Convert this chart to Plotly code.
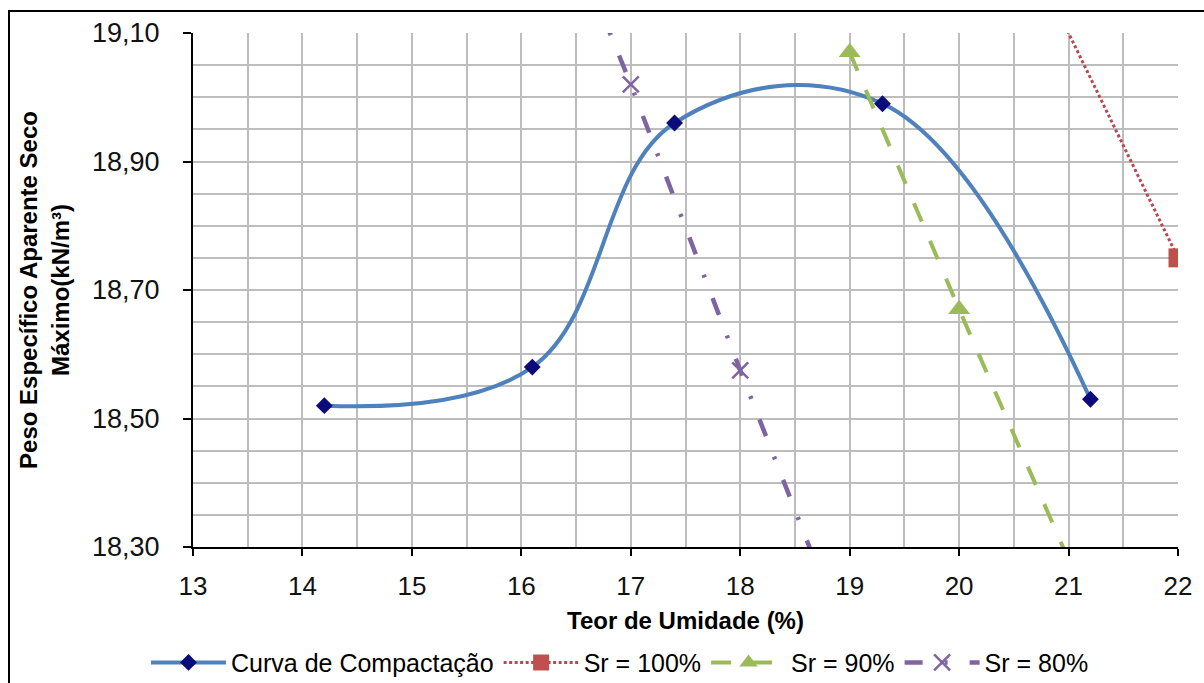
import plotly.graph_objects as go

# ---- data ----
umidade = [14.2, 16.1, 17.4, 19.3, 21.2]
peso_seco = [18.52, 18.58, 18.96, 18.99, 18.53]

sr100_x = [20, 22]
sr100_y = [19.45, 18.75]

sr90_x = [19, 20, 21]
sr90_y = [19.07, 18.67, 18.28]

sr80_x = [16, 17, 18, 19]
sr80_y = [19.44, 19.02, 18.575, 18.14]

x_ticks = [13, 14, 15, 16, 17, 18, 19, 20, 21, 22]
y_ticks = [18.30, 18.50, 18.70, 18.90, 19.10]

FONT = "Liberation Sans, Arial, sans-serif"

fig = go.Figure()

fig.add_trace(go.Scatter(
    x=umidade, y=peso_seco, name="Curva de Compactação",
    mode="lines+markers", line=dict(color="#4F81BD", width=4, shape="spline", smoothing=1.12),
    marker=dict(symbol="diamond", size=13, color="#0B0B7A")))

fig.add_trace(go.Scatter(
    x=sr100_x, y=sr100_y, name="Sr = 100%",
    mode="lines+markers", line=dict(color="#B9474F", width=3, dash="3px,2.5px"),
    marker=dict(symbol="square", size=19, color="#C0504D")))

fig.add_trace(go.Scatter(
    x=sr90_x, y=sr90_y, name="Sr = 90%",
    mode="lines+markers", line=dict(color="#9BBB59", width=4, dash="20px,21px"),
    marker=dict(symbol="triangle-up", size=19, color="#9BBB59")))

fig.add_trace(go.Scatter(
    x=sr80_x, y=sr80_y, name="Sr = 80%",
    mode="lines+markers", line=dict(color="#8064A2", width=4.5, dash="18px,22px,3px,22px"),
    marker=dict(symbol="x-thin-open", size=16, color="#8064A2", line=dict(width=2.5, color="#7A6A9A"))))

fig.update_layout(
    width=1204, height=683,
    margin=dict(l=193, r=26, t=33, b=136, autoexpand=False),
    paper_bgcolor="white", plot_bgcolor="white",
    separators=",.",
    font=dict(family=FONT, color="black"),
    showlegend=True,
    legend=dict(orientation="h", xanchor="center", x=0.4335, yanchor="middle", y=-0.225,
                font=dict(size=25, family=FONT), itemwidth=75, tracegroupgap=0,
                bgcolor="rgba(0,0,0,0)"),
    shapes=[dict(type="rect", xref="paper", yref="paper",
                 x0=-0.1868, x1=1.2, y0=-0.5, y1=1.0428,
                 line=dict(color="black", width=2), layer="above")],
)

fig.update_xaxes(
    range=[13, 22], tickvals=x_ticks, ticktext=[str(v) for v in x_ticks],
    showline=True, linecolor="black", linewidth=2,
    ticks="outside", ticklen=7, tickwidth=2, tickcolor="black",
    ticklabelstandoff=8,
    tickfont=dict(size=26, family=FONT, color="#111"),
    showgrid=True, gridcolor="#BDBDBD", gridwidth=1.5,
    minor=dict(dtick=0.5, showgrid=True, gridcolor="#BDBDBD", gridwidth=1.5),
    zeroline=False, automargin=False,
    title=dict(text="<b>Teor de Umidade (%)</b>", font=dict(size=24, family=FONT), standoff=12),
)

fig.update_yaxes(
    range=[18.30, 19.10], tickvals=y_ticks, tickformat=".2f",
    showline=True, linecolor="black", linewidth=2,
    ticks="outside", ticklen=8, tickwidth=2, tickcolor="black",
    ticklabelstandoff=18,
    tickfont=dict(size=27, family=FONT, color="#111"),
    showgrid=True, gridcolor="#BDBDBD", gridwidth=1.5,
    minor=dict(dtick=0.05, tick0=18.30, showgrid=True, gridcolor="#BDBDBD", gridwidth=1.5),
    zeroline=False, automargin=False,
    title=dict(text="<b>Peso Específico Aparente Seco<br>Máximo(kN/m³)</b>",
               font=dict(size=24, family=FONT), standoff=16),
)

fig.write_html("out.html")
